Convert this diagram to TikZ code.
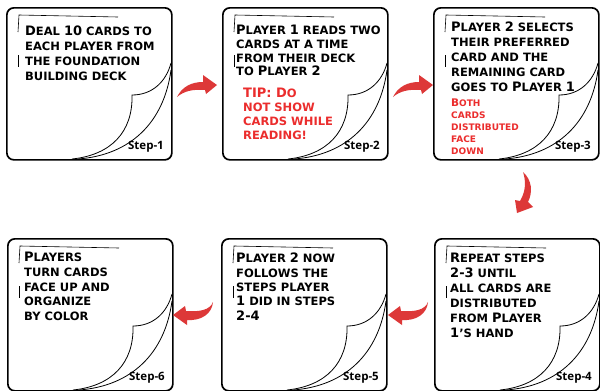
\documentclass[tikz,border=0pt]{standalone}
\usepackage{fontspec}
\usetikzlibrary{calc}
\setmainfont{DejaVu Sans}
\newfontfamily\stepfont{Open Sans}
\definecolor{arrowred}{RGB}{221,56,56}
\definecolor{txtred}{RGB}{235,45,45}
\newcommand\bigc[1]{{\fontsize{13pt}{\baselineskip}\selectfont #1}}
\newcommand\bigs[1]{{\fontsize{10.5pt}{\baselineskip}\selectfont #1}}
\tikzset{
  cardframe/.style={draw=black, line width=1.7pt, rounded corners=7pt, minimum width=165pt, minimum height=152pt, inner sep=0pt, anchor=north west},
  curlline/.style={draw=black, line width=0.8pt},
  guide/.style={draw=black, line width=0.6pt},
  cardtext/.style={anchor=north west, inner sep=0pt, align=left, font=\bfseries\fontsize{11.5pt}{#1}\selectfont},
  redtext/.style={cardtext=#1, text=txtred},
  smallred/.style={anchor=north west, inner sep=0pt, align=left, text=txtred, font=\bfseries\fontsize{9pt}{#1}\selectfont},
  steplabel/.style={anchor=base east, inner sep=0pt, font=\stepfont\bfseries\fontsize{11.5pt}{13pt}\selectfont},
  curl/.pic={
    \draw[curlline] (165,56) .. controls (160,75) and (146,88) .. (126,88) .. controls (127,125) and (105,148) .. (66,152);
    \draw[curlline] (165,63) .. controls (158,115) and (125,148) .. (72,152);
    \draw[guide] (12,25) -- (13,8) -- (112,10);
    \draw[guide] (12,48) -- (12,60);
  },
  arrowR/.pic={
    \fill[arrowred] (0,0) .. controls (5,-10) and (14,-15) .. (26,-15) -- (26,-22) -- (40,-12) -- (29,-3) -- (28,-7) .. controls (16,-8) and (7,-6) .. cycle;
  },
  arrowL/.pic={
    \fill[arrowred] (0,0) .. controls (-3,8) and (-13,10) .. (-27,9) -- (-28,4) -- (-40,13) -- (-26,23) -- (-26,18) .. controls (-12,19) and (-1,12) .. cycle;
  },
  arrowD/.pic={
    \fill[arrowred] (0,0) .. controls (9,8) and (10,20) .. (5,30) -- (10,35) -- (-6,41) -- (-8,28) -- (-3,29) .. controls (3,19) and (3,9) .. cycle;
  }
}
\newcommand\stepcard[4]{%
  \node[cardframe] (#1) at (#2,#3) {};
  \pic at (#1.north west) {curl};
  \node[steplabel] (#1s) at ($(#1.north west)+(158,142)$) {Step-#4};
}
\begin{document}
\begin{tikzpicture}[x=1pt,y=-1pt]
\useasboundingbox[fill=white] (0,0) rectangle (600,391);
\stepcard{c1}{6}{7}{1}
\stepcard{c2}{222}{7}{2}
\stepcard{c3}{433}{7}{3}
\stepcard{c4}{434}{238}{4}
\stepcard{c5}{221}{238}{5}
\stepcard{c6}{7}{238}{6}

\node[cardtext=15pt] (t1) at ($(c1.north west)+(19,19)$) {\bigc{D}EAL \bigc{10} CARDS TO\\EACH PLAYER FROM\\THE FOUNDATION\\BUILDING DECK};
\node[cardtext=13.7pt] (t2) at ($(c2.north west)+(14,18)$) {\bigc{P}LAYER \bigc{1} READS TWO\\CARDS AT A TIME\\FROM THEIR DECK\\TO \bigc{P}LAYER \bigc{2}};
\node[redtext=14pt] (r2) at ($(c2.north west)+(21,81)$) {\bigc{TIP: D}O\\NOT SHOW\\CARDS WHILE\\READING!};
\node[cardtext=15pt] (t3) at ($(c3.north west)+(18,15)$) {\bigc{P}LAYER \bigc{2} SELECTS\\THEIR PREFERRED\\CARD AND THE\\REMAINING CARD\\GOES TO \bigc{P}LAYER \bigc{1}};
\node[smallred=12pt] (r3) at ($(c3.north west)+(18,92)$) {\bigs{B}OTH\\CARDS\\DISTRIBUTED\\FACE\\DOWN};
\node[cardtext=15pt] (t4) at ($(c4.north west)+(16,15)$) {\bigc{R}EPEAT STEPS\\\bigc{2-3} UNTIL\\ALL CARDS ARE\\DISTRIBUTED\\FROM \bigc{P}LAYER\\\bigc{1}'S HAND};
\node[cardtext=14.3pt] (t5) at ($(c5.north west)+(15,15)$) {\bigc{P}LAYER \bigc{2} NOW\\FOLLOWS THE\\STEPS PLAYER\\\bigc{1} DID IN STEPS\\\bigc{2-4}};
\node[cardtext=14.75pt] (t6) at ($(c6.north west)+(17,14)$) {\bigc{P}LAYERS\\TURN CARDS\\FACE UP AND\\ORGANIZE\\BY COLOR};

\pic at (177,97) {arrowR};
\pic at (393,97) {arrowR};
\pic at (523,172) {arrowD};
\pic at (428,302) {arrowL};
\pic at (213,302) {arrowL};
\end{tikzpicture}
\end{document}
